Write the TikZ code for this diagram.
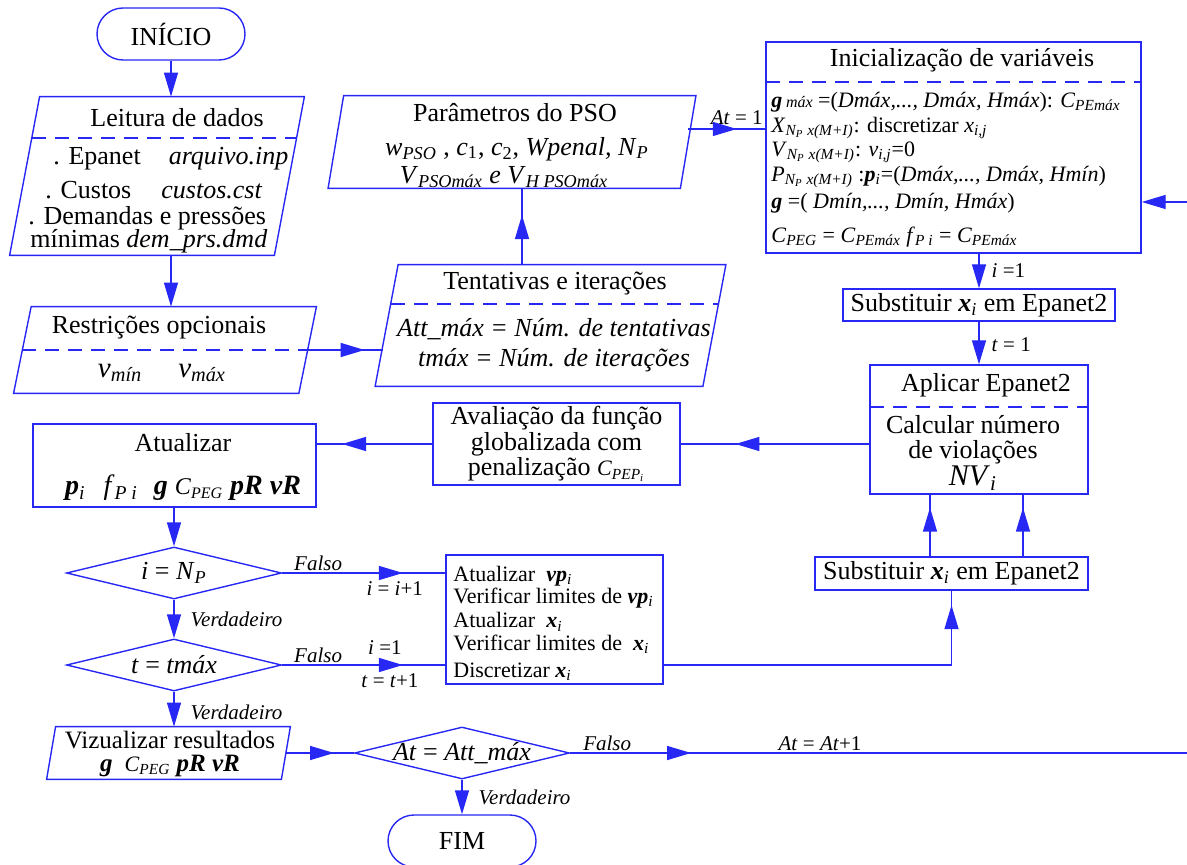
\documentclass[tikz,border=0pt]{standalone}
\usepackage{fontspec}
\setmainfont{Liberation Serif}
\usepackage{tikz}
\usetikzlibrary{positioning, arrows.meta, shapes.geometric, calc, decorations.markings}
\definecolor{flowblue}{RGB}{40,40,245}
\newcommand{\bfit}[1]{\textbf{\textit{#1}}}
\newcommand{\isub}[1]{\textsubscript{\textit{#1}}}
\newcommand{\slantbox}[2]{\draw[flow] ([xshift=#2]#1.north west) -- ([xshift=#2]#1.north east) -- ([xshift=-#2]#1.south east) -- ([xshift=-#2]#1.south west) -- cycle;}

\begin{document}
\begin{tikzpicture}[
    x=0.5pt, y=-0.5pt,
    >={Triangle[length=12pt,width=7pt]},
    flow/.style={draw=flowblue, line width=0.7pt},
    midarrow/.style={postaction={decorate}, decoration={markings, mark=at position #1 with {\arrow{>}}}},
    divider/.style={draw=flowblue, line width=0.7pt, dash pattern=on 7pt off 4.5pt},
    procbox/.style={rectangle, draw=flowblue, line width=0.7pt, inner sep=0pt},
    iobox/.style={rectangle, inner sep=0pt},
    terminal/.style={rectangle, draw=flowblue, line width=0.7pt, rounded corners=13pt, minimum width=74pt, minimum height=26pt, font=\fontsize{13}{15}\selectfont},
    decision/.style={diamond, draw=flowblue, line width=0.7pt, inner sep=0pt, aspect=4.1, minimum width=107.5pt, minimum height=26pt},
    txt/.style={inner sep=0pt, font=\fontsize{13}{15}\selectfont},
    smalltxt/.style={inner sep=0pt, font=\fontsize{11}{13}\selectfont},
    lbl/.style={inner sep=1pt, font=\fontsize{10.5}{12}\selectfont}
]
\useasboundingbox (0,0) rectangle (1187,865);

% Terminals
\node[terminal] (inicio) at (171,34) {INÍCIO};
\node[terminal] (fim) at (462,841) {FIM};

% Input boxes
\node[iobox, minimum width=132pt, minimum height=79pt] (leitura) at (157,176) {};
\slantbox{leitura}{7.5pt}
\draw[divider] (32,138) -- (296,138);
\node[txt] at (177,118) {Leitura de dados};
\node[txt, anchor=west] at (53,159) {. Epanet\hspace{14pt}\textit{arquivo.inp}};
\node[txt, anchor=west] at (45,190) {. Custos\hspace{15pt}\textit{custos.cst}};
\node[txt, anchor=west] at (28,218) {. Demandas e pressões};
\node[txt, anchor=west] at (30,241) {mínimas \textit{dem\_prs.dmd}};

\node[iobox, minimum width=142.25pt, minimum height=43pt] (restr) at (165,350) {};
\slantbox{restr}{4.4pt}
\draw[divider] (restr.west) -- (restr.east);
\node[txt] at (159,328) {Restrições opcionais};
\node[txt, font=\fontsize{14.5}{16}\selectfont] at (162,373) {\textit{v}\isub{mín}\hspace{18pt}\textit{v}\isub{máx}};

\node[iobox, minimum width=163.5pt, minimum height=60.5pt] (tent) at (550.5,325.5) {};
\slantbox{tent}{5.75pt}
\draw[divider] (391,304) -- (718,304);
\node[txt] at (555,284) {Tentativas e iterações};
\node[txt, align=center, font=\fontsize{13}{15}\selectfont\itshape] at (554,345) {Att\_máx = Núm. de tentativas\\tmáx = Núm. de iterações};

\node[iobox, minimum width=175.75pt, minimum height=46pt] (param) at (512,142) {};
\slantbox{param}{3.9pt}
\node[txt] at (515,113) {Parâmetros do PSO};
\node[txt] at (517,149) {\textit{w}\isub{PSO} , \textit{c}\textsubscript{1}, \textit{c}\textsubscript{2}, \textit{Wpenal, N}\isub{P}};
\node[txt] at (504,177) {\textit{V}\isub{PSOmáx} \textit{e} \textit{V}\isub{H PSOmáx}};

% Process boxes
\node[procbox, minimum width=187.5pt, minimum height=105.5pt] (init) at (953.5,147.5) {};
\draw[divider] (766,82) -- (1141,82);
\node[txt] at (962,60) {Inicialização de variáveis};
\node[smalltxt, anchor=west] at (771,102) {\bfit{g}\,{\footnotesize\textit{máx}} =(\textit{Dmáx,..., Dmáx, Hmáx}): \textit{C}\isub{PEmáx}};
\node[smalltxt, anchor=west] at (771,128) {\textit{X}\isub{N\textsubscript{P} x(M+I)}: discretizar \textit{x}\isub{i,j}};
\node[smalltxt, anchor=west] at (771,152) {\textit{V}\isub{N\textsubscript{P} x(M+I)}: \textit{v}\isub{i,j}=0};
\node[smalltxt, anchor=west] at (771,177) {\textit{P}\isub{N\textsubscript{P} x(M+I)} :\bfit{p}\isub{i}=(\textit{Dmáx,..., Dmáx, Hmín})};
\node[smalltxt, anchor=west] at (771,203) {\bfit{g} =( \textit{Dmín,..., Dmín, Hmáx})};
\node[smalltxt, anchor=west] at (771,237) {\textit{C}\isub{PEG} = \textit{C}\isub{PEmáx} \textit{f}\isub{P i} =\ \textit{C}\isub{PEmáx}};

\node[procbox, txt, minimum width=136pt, minimum height=16pt] (subst1) at (979,305) {Substituir \bfit{x}\isub{i} em Epanet2};

\node[procbox, minimum width=109pt, minimum height=64.5pt] (aplicar) at (979,429.5) {};
\draw[divider] (870,407) -- (1088,407);
\node[txt] at (986,385) {Aplicar Epanet2};
\node[txt, align=center, font=\fontsize{13}{12.5}\selectfont] at (973,453) {Calcular número\\de violações\\{\fontsize{15}{12.5}\selectfont\textit{NV}\isub{i}}};

\node[procbox, txt, align=center, minimum width=123.5pt, minimum height=41pt, font=\fontsize{13}{11.5}\selectfont] (aval) at (556.5,444) {Avaliação da função\\globalizada com\\penalização {\fontsize{11}{11}\selectfont\textit{C}\isub{PEP\textsubscript{i}}}};

\node[procbox, minimum width=141.5pt, minimum height=41.5pt] (atual) at (174.5,465.5) {};
\node[txt] at (183,443) {Atualizar};
\node[txt, font=\fontsize{14}{16}\selectfont] at (183,488) {\bfit{p}\isub{i}\hspace{9pt}\textit{f}\isub{P i}\hspace{8pt}\bfit{g} {\fontsize{12}{12}\selectfont\textit{C}\isub{PEG}} \bfit{pR vR}};

\node[procbox, minimum width=108.5pt, minimum height=64.5pt] (upd) at (554.5,619.5) {};
\node[smalltxt, anchor=west] at (453,576) {Atualizar \ \bfit{vp}\isub{i}};
\node[smalltxt, anchor=west] at (453,598) {Verificar limites de \bfit{vp}\isub{i}};
\node[smalltxt, anchor=west] at (453,622) {Atualizar \ \bfit{x}\isub{i}};
\node[smalltxt, anchor=west] at (453,644) {Verificar limites de \ \bfit{x}\isub{i}};
\node[smalltxt, anchor=west] at (453,672) {Discretizar \bfit{x}\isub{i}};

\node[procbox, txt, minimum width=136.5pt, minimum height=16.5pt] (subst2) at (951.5,573.5) {Substituir \bfit{x}\isub{i} em Epanet2};

\node[iobox, minimum width=117pt, minimum height=26pt] (viz) at (168.5,753) {};
\slantbox{viz}{2.25pt}
\node[txt, align=center, font=\fontsize{12.5}{11.5}\selectfont] at (170,754) {Vizualizar resultados\\\bfit{g}\hspace{6pt}{\fontsize{11}{11}\selectfont\textit{C}\isub{PEG}} \bfit{pR vR}};

% Decisions
\node[decision, txt] (dec1) at (174,573) {\textit{i} = \textit{N}\isub{P}};
\node[decision, txt] (dec2) at (174,665) {\textit{t} = \textit{tmáx}};
\node[decision] (dec3) at (462,753) {};
\node[txt] at (dec3) {\textit{At} = \textit{Att\_máx}};

% Loop ends at the right margin
\coordinate (loopin) at (1187,202);
\coordinate (loopout) at (1187,753);

% Connectors
\draw[flow,->] (inicio.south) -- (inicio.south |- leitura.north);
\draw[flow,->] (leitura.south -| inicio.south) -- (restr.north -| inicio.south);
\draw[flow, midarrow=0.76] (restr.east) -- ([xshift=-2pt]tent.west |- restr.east);
\draw[flow, midarrow=0.65] ([xshift=-14.25pt]tent.north) -- ([xshift=-14.25pt]tent.north |- param.south);
\draw[flow, midarrow=0.63] ([yshift=6.5pt]param.east) -- ([yshift=6.5pt]param.east -| init.west) node[lbl, pos=0.63, above=1pt] {\textit{At} = 1};
\draw[flow,->] (loopin) -- (init.east |- loopin);
\draw[flow,->] (init.south -| subst1.north) -- (subst1.north) node[lbl, pos=0.5, right=5pt] {\textit{i} =1};
\draw[flow,->] (subst1.south) -- (aplicar.north) node[lbl, pos=0.55, right=5pt] {\textit{t} = 1};
\draw[flow, midarrow=0.71] (aplicar.west |- aval.east) -- (aval.east);
\draw[flow, midarrow=0.78] (aval.west) -- (aval.west -| atual.east);
\draw[flow,->] (atual.south -| dec1.north) -- (dec1.north);
\draw[flow, midarrow=0.74] (dec1.east) -- (dec1.east -| upd.west) node[lbl, pos=0.22, above] {\textit{Falso}} node[lbl, pos=0.69, below=3pt] {\textit{i} = \textit{i}+1};
\draw[flow,->] (dec1.south) -- (dec2.north) node[lbl, midway, right=7pt] {\textit{Verdadeiro}};
\draw[flow, midarrow=0.74] (dec2.east) -- (dec2.east -| upd.west) node[lbl, pos=0.22, above] {\textit{Falso}} node[lbl, pos=0.63, above=4pt] {\textit{i} =1} node[lbl, pos=0.66, below=3pt] {\textit{t} = \textit{t}+1};
\draw[flow, midarrow=0.96] (dec2.east -| upd.east) -| (subst2.south);
\draw[flow, midarrow=0.79] ([xshift=-10.75pt]subst2.north) -- ([xshift=-10.75pt]subst2.north |- aplicar.south);
\draw[flow, midarrow=0.79] ([xshift=35.75pt]subst2.north) -- ([xshift=35.75pt]subst2.north |- aplicar.south);
\draw[flow,->] (dec2.south) -- (dec2.south |- viz.north) node[lbl, pos=0.6, right=7pt] {\textit{Verdadeiro}};
\draw[flow, midarrow=0.71] (viz.east) -- (dec3.west);
\draw[flow, midarrow=0.196] (dec3.east) -- (loopout) node[lbl, pos=0.06, above] {\textit{Falso}} node[lbl, pos=0.405, above] {\textit{At} = \textit{At}+1};
\draw[flow,->] (dec3.south) -- (fim.north) node[lbl, midway, right=7pt] {\textit{Verdadeiro}};

\end{tikzpicture}
\end{document}
